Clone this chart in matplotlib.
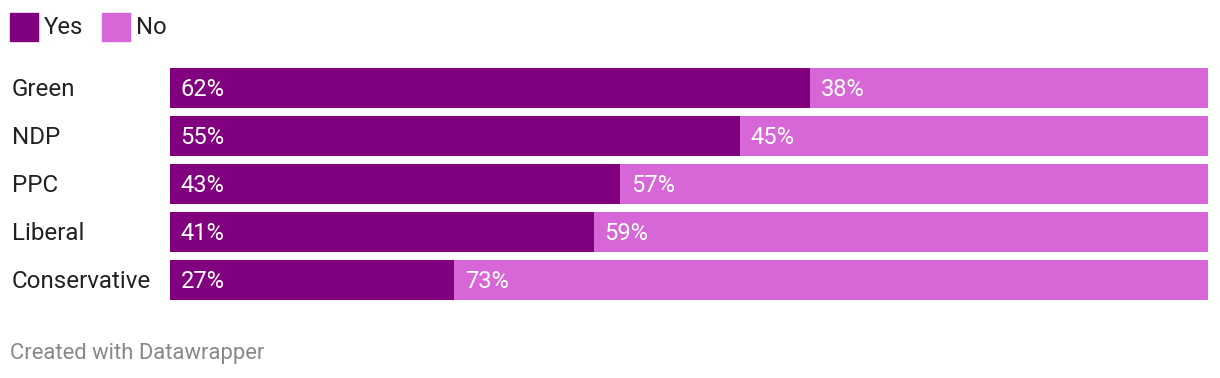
import matplotlib.pyplot as plt
from matplotlib.patches import Rectangle

parties = ["Green", "NDP", "PPC", "Liberal", "Conservative"]
# shares as drawn (labels are rounded)
yes = [61.7, 54.9, 43.4, 40.8, 27.4]
no = [38.3, 45.1, 56.6, 59.2, 72.6]
yes_labels = ["62%", "55%", "43%", "41%", "27%"]
no_labels = ["38%", "45%", "57%", "59%", "73%"]

YES_COL = "#800080"
NO_COL = "#d766d6"
W, H = 1220, 378

plt.rcParams['font.family'] = ['Roboto', 'DejaVu Sans']

fig = plt.figure(figsize=(W / 100, H / 100), dpi=100)
# bars span x 170..1208 px, y 68..300 px
ax = fig.add_axes([170 / W, (H - 300) / H, (1208 - 170) / W, 232 / H])
pos = list(range(len(parties)))
bh = 40 / 48
ax.barh(pos, yes, height=bh, color=YES_COL)
ax.barh(pos, no, left=yes, height=bh, color=NO_COL)
ax.set_xlim(0, 100)
ax.set_ylim(len(parties) - 1 + bh / 2, -bh / 2)
ax.axis("off")

pad = 10.5 / 1038 * 100
for i, p in enumerate(parties):
    ax.text(pad, i + 0.03, yes_labels[i], color="white", fontsize=17, va="center", ha="left")
    ax.text(yes[i] + pad, i + 0.03, no_labels[i], color="white", fontsize=17, va="center", ha="left")
    fig.text(12 / W, 1 - (89.5 + 48 * i) / H, p, color="#222222", fontsize=17.4, va="center", ha="left")

# legend
for x0, col, lab in [(10, YES_COL, "Yes"), (102, NO_COL, "No")]:
    fig.patches.append(Rectangle((x0 / W, 1 - 41 / H), 28 / W, 28 / H,
                                 transform=fig.transFigure, color=col))
    fig.text((x0 + 34) / W, 1 - 27 / H, lab, color="#222222", fontsize=17.2, va="center", ha="left")

fig.text(10 / W, 1 - 354 / H, "Created with Datawrapper", color="#888888", fontsize=15.8,
         va="center", ha="left")

fig.savefig("out.png", dpi=100, facecolor="white")
